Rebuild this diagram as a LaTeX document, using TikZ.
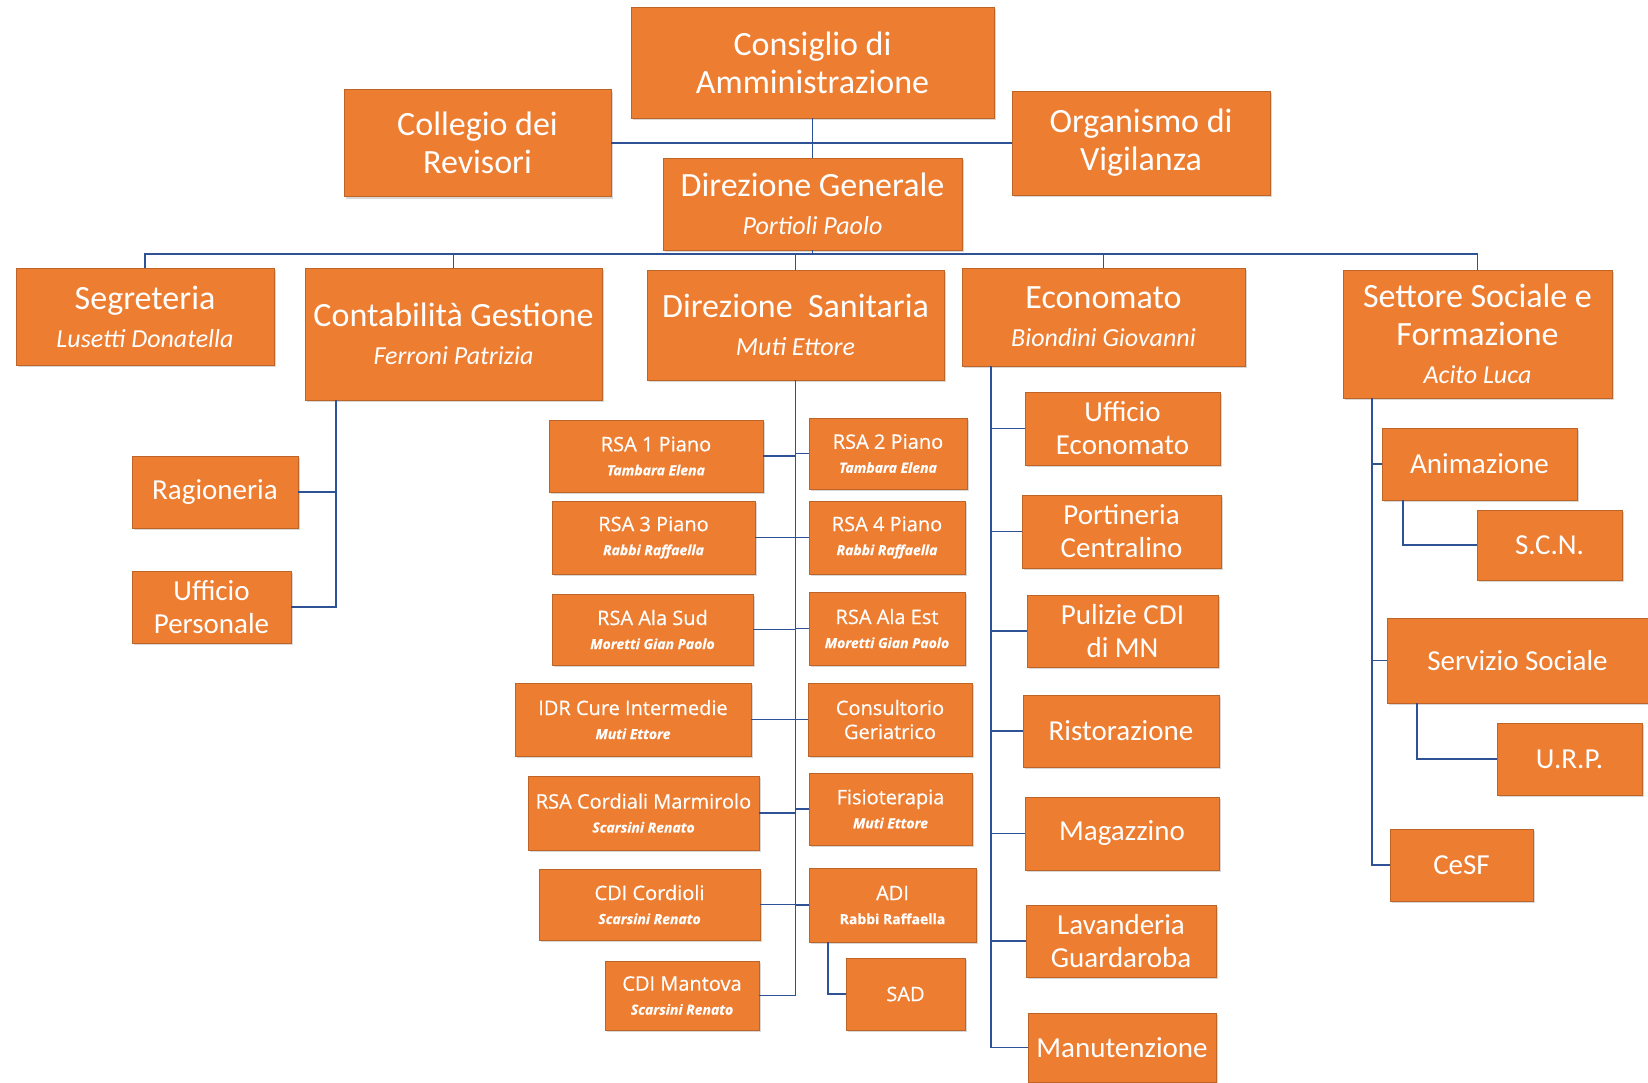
\documentclass[tikz,border=0pt]{standalone}
\usepackage{fontspec}
\setmainfont{Carlito}
\newfontfamily\osfont[FakeBold=0.5]{Open Sans}
\usetikzlibrary{shadows}
\definecolor{arancio}{RGB}{237,125,49}
\definecolor{linea}{RGB}{47,82,150}
\newcommand{\nm}[1]{\fontsize{26}{35}\selectfont\itshape #1}
\newcommand{\pn}[1]{\fontsize{14}{24}\selectfont\bfseries\itshape #1}
\begin{document}
\begin{tikzpicture}[x=1pt,y=-1pt,%
        box/.style={fill=arancio,draw=arancio!80!black,line width=0.6pt,
          text=white,align=center,inner sep=0pt,drop shadow={shadow
          xshift=2pt,shadow yshift=-2pt,opacity=0.3}},%
        wh/.style 2 args={minimum width=#1pt,minimum height=#2pt},%
        big/.style={box,font=\fontsize{34}{38}\selectfont},%
        mid/.style={box,font=\fontsize{29}{33}\selectfont},%
        sml/.style={box,font=\osfont\fontsize{20}{24}\selectfont},%
        ln/.style={draw=linea,line width=1.8pt}]%
        \fill[white] (0,0) rectangle (1648,1082);
        \useasboundingbox (0,0) rectangle (1648,1082);
        \node[big,wh={363}{111}] (cda) at (812.5,62.5) {Consiglio
          di\\Amministrazione}; \node[big,wh={267}{107}] (rev) at (477.5,143)
        {Collegio dei\\Revisori}; \node[big,wh={258}{104}] (odv) at (1141,143)
        {Organismo di\\Vigilanza}; \node[big,wh={299}{92}] (dg) at
        (812.5,204) {Direzione Generale\\\nm{Portioli Paolo}};
        \node[big,wh={258}{97}] (seg) at (145,316.5)
        {Segreteria\\\nm{Lusetti Donatella}}; \node[big,wh={297}{132}] (cont)
        at (453.5,334) {Contabilità Gestione\\\nm{Ferroni Patrizia}};
        \node[big,wh={297}{110}] (ds) at (795.5,325) {Direzione~~Sanitaria\\\nm{Muti
            Ettore}}; \node[big,wh={283}{98}] (eco) at (1103.5,317)
        {Economato\\\nm{Biondini Giovanni}}; \node[big,wh={269}{128}] (sso) at
        (1477.5,334) {Settore Sociale e\\Formazione\\\nm{Acito Luca}};
        \node[mid,wh={166}{72}] (rag) at (215,492) {Ragioneria};
        \node[mid,wh={159}{72}] (uper) at (211.5,607) {Ufficio\\Personale};
        \node[sml,wh={214}{72}] (rsa1) at (656,456) {RSA 1 Piano\\\pn{Tambara
            Elena}}; \node[sml,wh={203}{73}] (rsa3) at (653.5,537.5) {RSA 3
          Piano\\\pn{Rabbi Raffaella}}; \node[sml,wh={201}{71}] (rsas) at
        (652.5,629.5) {RSA Ala Sud\\\pn{Moretti Gian Paolo}};
        \node[sml,wh={236}{73}] (idr) at (633,719.5) {IDR Cure
          Intermedie\\\pn{Muti Ettore}}; \node[sml,wh={231}{74}] (rcm) at
        (643.5,813) {RSA Cordiali Marmirolo\\\pn{Scarsini Renato}};
        \node[sml,wh={221}{71}] (cdic) at (649.5,904.5) {CDI
          Cordioli\\\pn{Scarsini Renato}}; \node[sml,wh={154}{69}] (cdim) at
        (682,995.5) {CDI Mantova\\\pn{Scarsini Renato}};
        \node[sml,wh={158}{71}] (rsa2) at (888,453.5) {RSA 2
          Piano\\\pn{Tambara Elena}}; \node[sml,wh={156}{73}] (rsa4) at
        (887,537.5) {RSA 4 Piano\\\pn{Rabbi Raffaella}};
        \node[sml,wh={156}{73}] (rsae) at (887,628.5) {RSA Ala
          Est\\\pn{Moretti Gian Paolo}}; \node[sml,wh={164}{73}] (cger) at
        (890,719.5) {Consultorio\\Geriatrico}; \node[sml,wh={163}{72}] (fis)
        at (890.5,809) {Fisioterapia\\\pn{Muti Ettore}};
        \node[sml,wh={167}{74}] (adi) at (892.5,905)
        {ADI\\{\fontsize{14}{24}\selectfont\bfseries Rabbi Raffaella}};
        \node[sml,wh={119}{72}] (sad) at (905.5,994) {SAD};
        \node[mid,wh={195}{73}] (uec) at (1122.5,428.5) {Ufficio\\Economato};
        \node[mid,wh={199}{73}] (por) at (1121.5,531.5)
        {Portineria\\Centralino}; \node[mid,wh={191}{72}] (pul) at
        (1122.5,631) {Pulizie CDI\\di MN}; \node[mid,wh={196}{72}] (ris) at
        (1121,731) {Ristorazione}; \node[mid,wh={194}{73}] (mag) at
        (1122,833.5) {Magazzino}; \node[mid,wh={190}{72}] (lav) at (1121,941)
        {Lavanderia\\Guardaroba}; \node[mid,wh={188}{69}] (man) at
        (1122,1047.5) {Manutenzione};
        \node[mid,wh={195}{72}] (ani) at (1479.5,464) {Animazione};
        \node[mid,wh={145}{70}] (scn) at (1549.5,545) {S.C.N.};
        \node[mid,wh={261}{85}] (ser) at (1517.5,660.5) {Servizio Sociale};
        \node[mid,wh={145}{72}] (urp) at (1569.5,759) {U.R.P.};
        \node[mid,wh={143}{72}] (ces) at (1461.5,865) {CeSF};
        \coordinate (bus) at (812.5,254);
        \draw[ln] (cda.south) -- (dg.north); \draw[ln] (rev.east) --
        (odv.west); \draw[ln] (dg.south) -- (bus);
        \foreach \n in {seg,cont,ds,eco,sso} \draw[ln] (bus) -| (\n.north);
        \foreach \n in {rag,uper} \draw[ln] ([xshift=31pt]cont.south west) |-
        (\n.east);
        \foreach \n in {rsa1,rsa3,rsas,idr,rcm,cdic,cdim} \draw[ln] (ds.south)
        |- (\n.east);
        \foreach \n in {rsa2,rsa4,rsae,cger,fis,adi} \draw[ln] (ds.south) |-
        (\n.west);
        \draw[ln] ([xshift=19pt]adi.south west) |- (sad.west);
        \foreach \n in {uec,por,pul,ris,mag,lav,man} \draw[ln]
        ([xshift=29pt]eco.south west) |- (\n.west);
        \foreach \n in {ani,ser,ces} \draw[ln] ([xshift=29pt]sso.south west)
        |- (\n.west);
        \draw[ln] ([xshift=21pt]ani.south west) |- (scn.west); \draw[ln]
        ([xshift=30pt]ser.south west) |- (urp.west);
      \end{tikzpicture}
\end{document}
